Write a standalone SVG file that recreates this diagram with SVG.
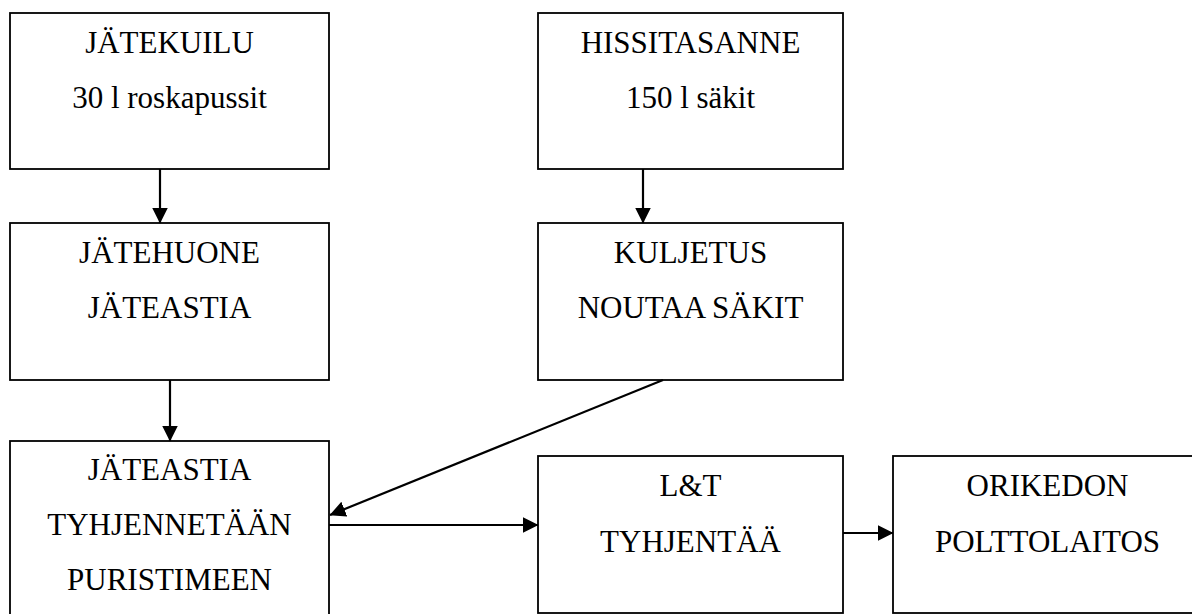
<svg xmlns="http://www.w3.org/2000/svg" width="1192" height="614" viewBox="0 0 1192 614">
  <style>
    .box { fill: #ffffff; stroke: #000000; stroke-width: 1.8; }
    .lbl { font-family: "Liberation Serif", "Times New Roman", serif; font-size: 31px; fill: #000000; text-anchor: middle; }
    .conn { stroke: #000000; stroke-width: 2.2; fill: none; marker-end: url(#arrow); }
  </style>
  <defs>
    <marker id="arrow" markerUnits="userSpaceOnUse" markerWidth="17" markerHeight="17" refX="15.5" refY="8" orient="auto">
      <path d="M0,0 L16,8 L0,16 Z" fill="#000000"/>
    </marker>
  </defs>
  <rect width="1192" height="614" fill="#ffffff"/>

  <g id="jatekuilu">
    <rect class="box" x="10" y="13" width="319" height="156"/>
    <text class="lbl" x="169.5" y="53">JÄTEKUILU</text>
    <text class="lbl" x="169.5" y="108">30 l roskapussit</text>
  </g>

  <g id="jatehuone">
    <rect class="box" x="10" y="223" width="319" height="157"/>
    <text class="lbl" x="169.5" y="263">JÄTEHUONE</text>
    <text class="lbl" x="169.5" y="318">JÄTEASTIA</text>
  </g>

  <g id="puristin">
    <rect class="box" x="10" y="441" width="319" height="180"/>
    <text class="lbl" x="169.5" y="480">JÄTEASTIA</text>
    <text class="lbl" x="169.5" y="535">TYHJENNETÄÄN</text>
    <text class="lbl" x="169.5" y="590">PURISTIMEEN</text>
  </g>

  <g id="hissitasanne">
    <rect class="box" x="538" y="13" width="305" height="156"/>
    <text class="lbl" x="690.5" y="53">HISSITASANNE</text>
    <text class="lbl" x="690.5" y="108">150 l säkit</text>
  </g>

  <g id="kuljetus">
    <rect class="box" x="538" y="223" width="305" height="157"/>
    <text class="lbl" x="690.5" y="263">KULJETUS</text>
    <text class="lbl" x="690.5" y="318">NOUTAA SÄKIT</text>
  </g>

  <g id="lt">
    <rect class="box" x="538" y="456" width="305" height="157"/>
    <text class="lbl" x="690.5" y="496">L&amp;T</text>
    <text class="lbl" x="690.5" y="552">TYHJENTÄÄ</text>
  </g>

  <g id="polttolaitos">
    <rect class="box" x="893" y="456" width="310" height="157"/>
    <text class="lbl" x="1047.5" y="496">ORIKEDON</text>
    <text class="lbl" x="1047.5" y="552">POLTTOLAITOS</text>
  </g>

  <g id="connectors">
    <line class="conn" x1="160" y1="169" x2="160" y2="223"/>
    <line class="conn" x1="170" y1="380" x2="170" y2="441"/>
    <line class="conn" x1="643" y1="169" x2="643" y2="223"/>
    <line class="conn" x1="663" y1="380" x2="330" y2="515"/>
    <line class="conn" x1="329" y1="525" x2="538" y2="525"/>
    <line class="conn" x1="843" y1="533" x2="893" y2="533"/>
  </g>
</svg>
